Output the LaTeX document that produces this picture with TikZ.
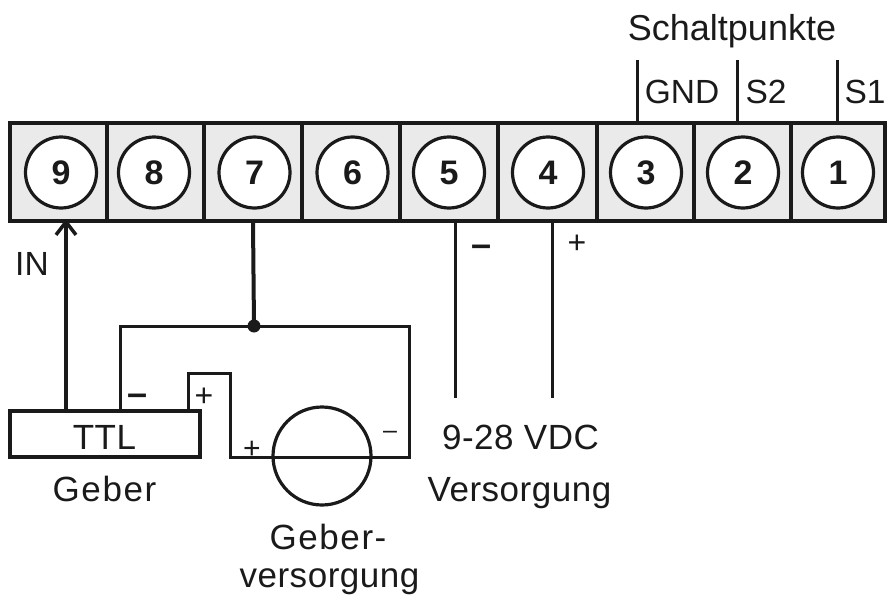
\documentclass[tikz,border=0pt]{standalone}
\usepackage{fontspec}
\setmainfont{Liberation Sans}
\usetikzlibrary{arrows.meta}
\definecolor{ink}{HTML}{1A1A1A}
\definecolor{cellgray}{HTML}{EAEAEA}
\tikzset{
  cellbox/.style={draw=ink,fill=cellgray,line width=3.2pt,minimum height=98pt,inner sep=0pt},
  terminal/.style={circle,draw=ink,fill=white,line width=3.2pt,minimum size=71pt,inner sep=0pt,text=ink,font=\fontsize{34}{34}\selectfont\bfseries},
  wire/.style={draw=ink,line width=3pt,line join=miter},
  heavywire/.style={draw=ink,line width=4pt,line join=miter},
  lab/.style={inner sep=0pt,anchor=base,text=ink,font=\fontsize{33.5}{34}\selectfont},
  biglab/.style={lab,font=\fontsize{36}{36}\selectfont},
  lowlab/.style={lab,font=\fontsize{35}{35}\selectfont\addfontfeature{LetterSpace=1.5}},
  lowwide/.style={lab,font=\fontsize{35}{35}\selectfont\addfontfeature{LetterSpace=4.5}},
  signb/.style={lab,font=\fontsize{36}{36}\selectfont\bfseries},
  signm/.style={lab,font=\fontsize{32}{32}\selectfont},
  signs/.style={lab,font=\fontsize{30}{30}\selectfont},
  signt/.style={lab,font=\fontsize{25}{25}\selectfont},
  dotnode/.style={circle,fill=ink,inner sep=0pt,minimum size=13pt},
}
\begin{document}
\begin{tikzpicture}[x=1pt,y=-1pt]
\useasboundingbox (0,0) rectangle (887,597);
% terminal strip
\foreach \n/\xa/\xb in {9/10/107,8/107/204,7/204/302,6/302/400,5/400/498,4/498/597,3/597/694,2/694/791,1/791/885}{
  \pgfmathsetmacro\cellw{\xb-\xa}
  \pgfmathsetmacro\xm{(\xa+\xb)/2}
  \node[cellbox,minimum width=\cellw pt] (cell\n) at (\xm,172) {};
}
\foreach \n/\x in {9/61,8/154,7/254.5,6/352.5,5/449,4/548,3/646,2/743,1/838}{
  \node[terminal] (t\n) at (\x,172.5) {\n};
}
% anchor points on the strip
\coordinate (p5) at (455,221);
\coordinate (p4) at (552,221);
\coordinate (p3) at (637,123);
\coordinate (p2) at (737,123);
\coordinate (p1) at (837,123);
\coordinate (e5) at (455,398);
\coordinate (e4) at (552,398);
\coordinate (e3) at (637,60);
\coordinate (e2) at (737,60);
\coordinate (e1) at (837,60);
% sensor box
\node[draw=ink,line width=3.2pt,minimum width=190pt,minimum height=46pt,inner sep=0pt] (ttl) at (105,434) {};
\node[lowlab] (ttltext) at (104.5,449) {TTL};
\node[circle,draw=ink,line width=3.2pt,minimum size=98pt,inner sep=0pt] (supply) at (322,456) {};
\node[dotnode] (junction) at (254,326) {};
\coordinate (gnd) at (120,411);
\coordinate (gndtop) at (120,326);
\coordinate (rtop) at (409,326);
\coordinate (rbot) at (409,457);
\coordinate (lbot) at (230,457);
\coordinate (ltop) at (230,373);
\coordinate (ptop) at (188,373);
\coordinate (pbot) at (188,411);
\coordinate (inb) at (66,411);
% wires
\draw[heavywire,-{Straight Barb[length=13pt,width=20pt,line width=3.5pt]}] (inb) -- (66,219);
\draw[heavywire] (cell7.south) -- (junction.center);
\draw[wire] (gnd) -- (gndtop) -- (rtop) -- (rbot) -- (lbot) -- (ltop) -- (ptop) -- (pbot);
\draw[wire] (p5) -- (e5);
\draw[wire] (p4) -- (e4);
\draw[wire] (p3) -- (e3);
\draw[wire] (p2) -- (e2);
\draw[wire] (p1) -- (e1);
% labels
\node[biglab] (schalt) at (732,41) {Schaltpunkte};
\node[lab] (lgnd) at (682,103) {GND};
\node[lab] (ls2) at (766,103) {S2};
\node[lab] (ls1) at (865,103) {S1};
\node[lab] (lin) at (32,275) {IN};
\node[lowwide] (lgeber) at (104.5,501) {Geber};
\node[lowlab] (lvdc) at (520.5,449) {9-28 VDC};
\node[lowlab] (lvers) at (519.5,501) {Versorgung};
\node[lowwide] (lgeb) at (328,549) {Geber-};
\node[lowlab] (lgv) at (329.5,587) {versorgung};
% polarity signs
\node[signb] (s1) at (482,256) {–};
\node[signm] (s2) at (577,253) {+};
\node[signb] (s3) at (138,405) {–};
\node[signm] (s4) at (204,406) {+};
\node[signs] (s5) at (252,458) {+};
\node[signt] (s6) at (390,438) {–};
\end{tikzpicture}
\end{document}
